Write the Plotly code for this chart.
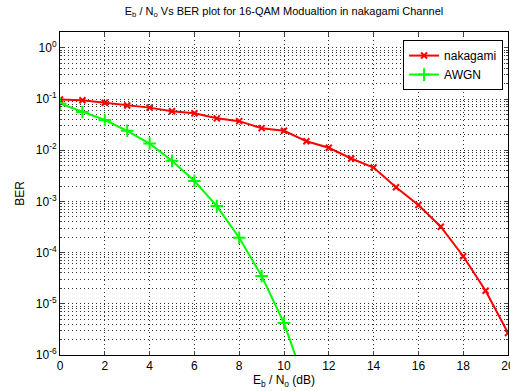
import plotly.graph_objects as go

ebno = list(range(0, 21))
ber_nakagami = [0.098, 0.095, 0.085, 0.075, 0.068, 0.058, 0.053, 0.042, 0.037, 0.027,
                0.024, 0.015, 0.0112, 0.0069, 0.0046, 0.0019, 8.5e-4, 3.2e-4, 8.5e-5,
                1.8e-5, 2.7e-6]
ebno_awgn = list(range(0, 12))
ber_awgn = [0.082, 0.056, 0.039, 0.024, 0.0135, 0.0062, 0.0025, 8.1e-4, 1.95e-4,
            3.5e-5, 4.2e-6, 2.4e-7]
ytick_vals = [1e-6, 1e-5, 1e-4, 1e-3, 1e-2, 1e-1, 1e0]
ytick_text = ["10<sup>-6</sup>", "10<sup>-5</sup>", "10<sup>-4</sup>", "10<sup>-3</sup>",
              "10<sup>-2</sup>", "10<sup>-1</sup>", "10<sup>0</sup>"]
xtick_vals = [0, 2, 4, 6, 8, 10, 12, 14, 16, 18, 20]

FONT = "Liberation Sans, Arial, sans-serif"

fig = go.Figure()
fig.add_trace(go.Scatter(
    x=ebno, y=ber_nakagami, name="nakagami", mode="lines+markers",
    line=dict(color="#ff0000", width=2),
    marker=dict(symbol="x-thin", size=6, line=dict(color="#ff0000", width=2)),
))
fig.add_trace(go.Scatter(
    x=ebno_awgn, y=ber_awgn, name="AWGN", mode="lines+markers",
    line=dict(color="#00ff00", width=2),
    marker=dict(symbol="cross-thin", size=9, line=dict(color="#00ff00", width=2)),
))

grid_col = "#303030"
dash = "1px,3px"
fig.update_layout(
    width=510, height=391,
    margin=dict(l=60, r=2, t=32, b=36, autoexpand=False),
    paper_bgcolor="white", plot_bgcolor="white",
    font=dict(family=FONT, size=11, color="black"),
    title=dict(text="E<sub>b</sub> / N<sub>o</sub> Vs BER plot for 16-QAM Modualtion in nakagami Channel",
               x=0.5, xref="paper", y=0.982, yref="container", yanchor="top",
               font=dict(family=FONT, size=11, color="black")),
    showlegend=True,
    legend=dict(x=0.989, y=0.975, xanchor="right", yanchor="top",
                bgcolor="white", bordercolor="black", borderwidth=1,
                font=dict(family=FONT, size=12, color="black"),
                tracegroupgap=0),
)
fig.update_xaxes(
    range=[0, 20], tickvals=xtick_vals, ticks="inside", ticklen=4,
    showline=True, linecolor="black", linewidth=1, mirror="ticks",
    showgrid=True, gridcolor=grid_col, griddash=dash, gridwidth=1,
    zeroline=False, tickfont=dict(size=12), automargin=False,
    ticklabeloverflow="allow",
    title=dict(text="E<sub>b</sub> / N<sub>o</sub> (dB)", font=dict(size=12), standoff=2),
)
fig.update_yaxes(
    type="log", range=[-6, 0.31], tickvals=ytick_vals, ticktext=ytick_text,
    ticks="inside", ticklen=4,
    showline=True, linecolor="black", linewidth=1, mirror="ticks",
    showgrid=True, gridcolor=grid_col, griddash=dash, gridwidth=1,
    minor=dict(dtick="D1", ticks="inside", ticklen=2, showgrid=True,
               gridcolor=grid_col, griddash=dash, gridwidth=1),
    zeroline=False, tickfont=dict(size=12), automargin=False,
    title=dict(text="BER", font=dict(size=12), standoff=8),
)
fig.write_html("out.html", config={"displayModeBar": False},
               post_script="document.body.style.margin='0';")
